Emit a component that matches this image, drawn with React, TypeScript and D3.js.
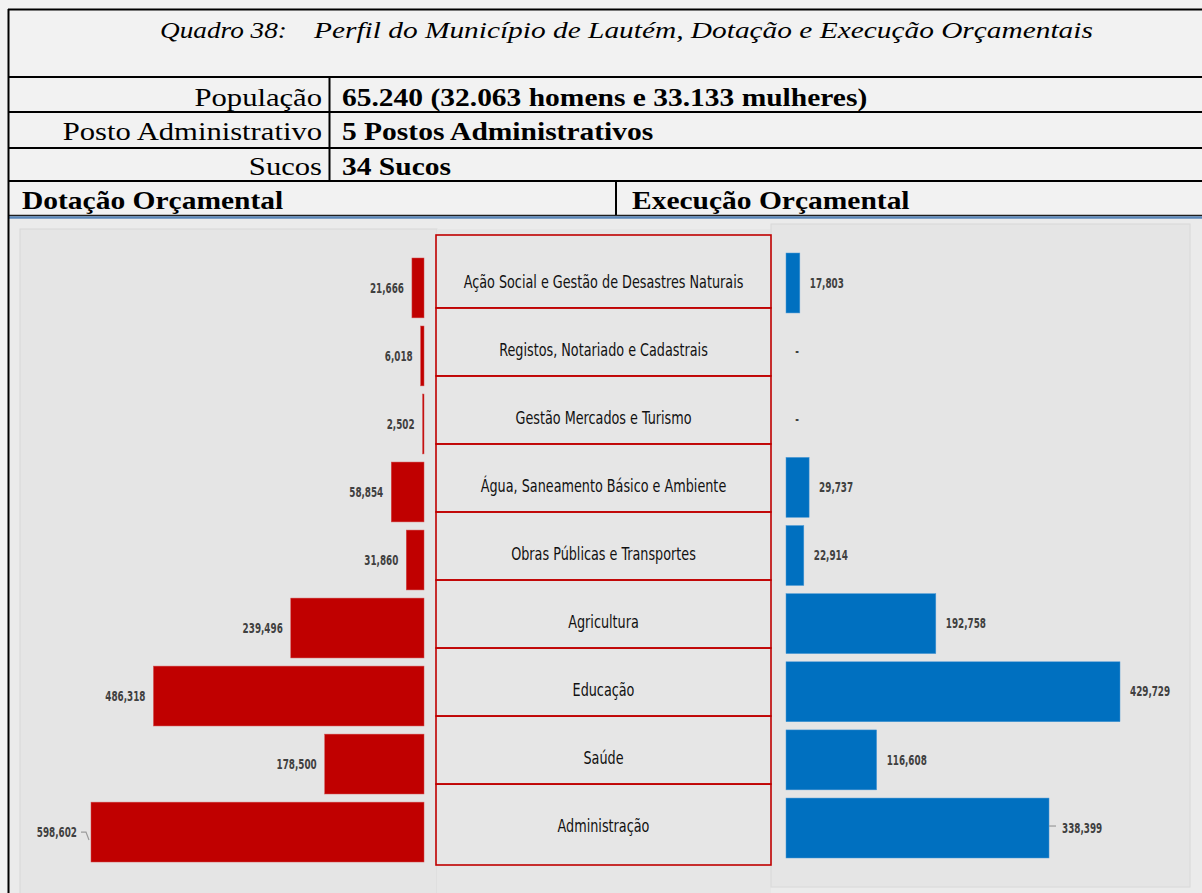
import React from "react";
import * as d3 from "d3";

// budget categories, top to bottom
const categories = [
  "Ação Social e Gestão de Desastres Naturais",
  "Registos, Notariado e Cadastrais",
  "Gestão Mercados e Turismo",
  "Água, Saneamento Básico e Ambiente",
  "Obras Públicas e Transportes",
  "Agricultura",
  "Educação",
  "Saúde",
  "Administração",
];
const dotacao = [21666, 6018, 2502, 58854, 31860, 239496, 486318, 178500, 598602];
const execucao = [17803, 0, 0, 29737, 22914, 192758, 429729, 116608, 338399];

const tituloQuadro = "Quadro 38:";
const tituloTexto = "Perfil do Município de Lautém, Dotação e Execução Orçamentais";
const perfilRotulos = ["População", "Posto Administrativo", "Sucos"];
const perfilValores = ["65.240 (32.063 homens e 33.133 mulheres)", "5 Postos Administrativos", "34 Sucos"];
const seccoes = ["Dotação Orçamental", "Execução Orçamental"];

const W = 1202;
const H = 893;
const serif = "'Liberation Serif', 'Times New Roman', serif";
const narrow = "'DejaVu Sans Condensed', 'DejaVu Sans', sans-serif";

const fmt = d3.format(",");

const App = () => {
  const leftEdge = 424;
  const rightEdge = 786;

  const xL = d3.scaleLinear().domain([0, d3.max(dotacao)!]).range([0, 333]);
  const xR = d3.scaleLinear().domain([0, d3.max(execucao)!]).range([0, 334]);
  const yL = d3.scaleBand().domain(categories).range([258, 862]).paddingInner(0.12);
  const yR = d3.scaleBand().domain(categories).range([253, 858]).paddingInner(0.12);

  const centers = categories.map((c) => yL(c)! + yL.bandwidth() / 2);
  const bounds = [235];
  for (let i = 0; i < centers.length - 1; i++) bounds.push((centers[i] + centers[i + 1]) / 2 - 14);
  bounds.push(865);

  const rowLines = [77, 112, 148, 181];
  const rowBase = [105.5, 140, 174.5];

  // the scan is stretched sideways, so text gets an x scale
  const stretched = (x: number, y: number, anchor: string, weight: string, size: number, sx: number, txt: string, italic = false) => (
    <text
      transform={`translate(${x},${y}) scale(${sx},1)`}
      textAnchor={anchor}
      fontFamily={serif}
      fontWeight={weight}
      fontStyle={italic ? "italic" : "normal"}
      fontSize={size}
      fill="#000"
    >
      {txt}
    </text>
  );

  const narrowText = (x: number, y: number, anchor: string, size: number, sx: number, fill: string, txt: string, weight = "normal") => (
    <text
      transform={`translate(${x},${y}) scale(${sx},1)`}
      textAnchor={anchor}
      dominantBaseline="central"
      fontFamily={narrow}
      fontWeight={weight}
      fontSize={size}
      fill={fill}
    >
      {txt}
    </text>
  );

  const last = categories.length - 1;

  return (
    <svg width={W} height={H} style={{ position: "absolute", left: 0, top: 0, display: "block" }}>
      <rect x={0} y={0} width={W} height={H} fill="#f2f2f2" />

      {/* table header */}
      {stretched(160, 38, "start", "normal", 23.5, 1.16, tituloQuadro, true)}
      {stretched(314, 38, "start", "normal", 23.5, 1.25, tituloTexto, true)}
      {perfilRotulos.map((r, i) => (
        <g key={r}>
          {stretched(322, rowBase[i], "end", "normal", 25, 1.225, r)}
          {stretched(342, rowBase[i], "start", "bold", 25, 1.18, perfilValores[i])}
        </g>
      ))}
      {stretched(22, 208.5, "start", "bold", 25, 1.18, seccoes[0])}
      {stretched(632, 208.5, "start", "bold", 25, 1.18, seccoes[1])}

      {rowLines.map((y) => (
        <line key={y} x1={8} x2={W} y1={y} y2={y} stroke="#000" strokeWidth={2} />
      ))}
      <line x1={329.5} x2={329.5} y1={77} y2={181} stroke="#000" strokeWidth={2} />
      <line x1={616} x2={616} y1={181} y2={215} stroke="#000" strokeWidth={2} />
      <line x1={8} x2={W} y1={9.5} y2={9.5} stroke="#000" strokeWidth={2} />

      {/* chart image area */}
      <rect x={8} y={216} width={W - 8} height={H - 216} fill="#ebebeb" />
      <line x1={8} x2={W} y1={215.5} y2={215.5} stroke="#1f1f1f" strokeWidth={1.5} />
      <line x1={8} x2={W} y1={217.5} y2={217.5} stroke="#5b87b9" strokeWidth={2.5} />
      <rect x={20} y={229} width={417} height={H - 229 + 2} fill="#e5e5e5" stroke="#d8d8d8" />
      <rect x={437} y={229} width={334} height={H - 229 + 2} fill="#e6e6e6" stroke="none" />
      <rect x={771} y={224} width={419} height={663} fill="#e5e5e5" stroke="#d8d8d8" />
      <line x1={8.5} x2={8.5} y1={9} y2={H} stroke="#000" strokeWidth={2} />

      {/* category boxes */}
      {categories.map((c, i) => (
        <g key={c}>
          <rect
            x={436}
            y={bounds[i]}
            width={335}
            height={bounds[i + 1] - bounds[i]}
            fill="none"
            stroke="#c00000"
            strokeWidth={1.6}
          />
          {narrowText(603.5, centers[i] - 6, "middle", 18, 0.79, "#111", c)}
        </g>
      ))}

      {/* dotação bars */}
      {categories.map((c, i) => {
        const w = xL(dotacao[i]);
        const cy = yL(c)! + yL.bandwidth() / 2;
        const gap = i === last ? 14 : 8;
        return (
          <g key={c}>
            <rect x={leftEdge - w} y={yL(c)} width={w} height={yL.bandwidth()} fill="#c00000" stroke="#d24a4a" strokeWidth={0.5} />
            {i === last && (
              <polyline
                points={`${leftEdge - w - 10},${cy} ${leftEdge - w - 5},${cy} ${leftEdge - w - 2},${cy + 8}`}
                fill="none"
                stroke="#9a9a9a"
                strokeWidth={1.2}
              />
            )}
            {narrowText(leftEdge - w - gap, cy, "end", 14, 0.7, "#404040", fmt(dotacao[i]), "bold")}
          </g>
        );
      })}

      {/* execução bars */}
      {categories.map((c, i) => {
        const v = execucao[i];
        const w = xR(v);
        const cy = yR(c)! + yR.bandwidth() / 2;
        if (v === 0) {
          return <g key={c}>{narrowText(rightEdge + 11, cy, "middle", 14, 0.7, "#404040", "-", "bold")}</g>;
        }
        const gap = i === last ? 13 : 10;
        return (
          <g key={c}>
            <rect x={rightEdge} y={yR(c)} width={w} height={yR.bandwidth()} fill="#0070c0" stroke="#4d9ad6" strokeWidth={0.5} />
            {i === last && (
              <line x1={rightEdge + w} x2={rightEdge + w + 7} y1={cy - 2} y2={cy - 2} stroke="#9a9a9a" strokeWidth={1.2} />
            )}
            {narrowText(rightEdge + w + gap, cy, "start", 14, 0.7, "#404040", fmt(v), "bold")}
          </g>
        );
      })}
    </svg>
  );
};

export default App;
